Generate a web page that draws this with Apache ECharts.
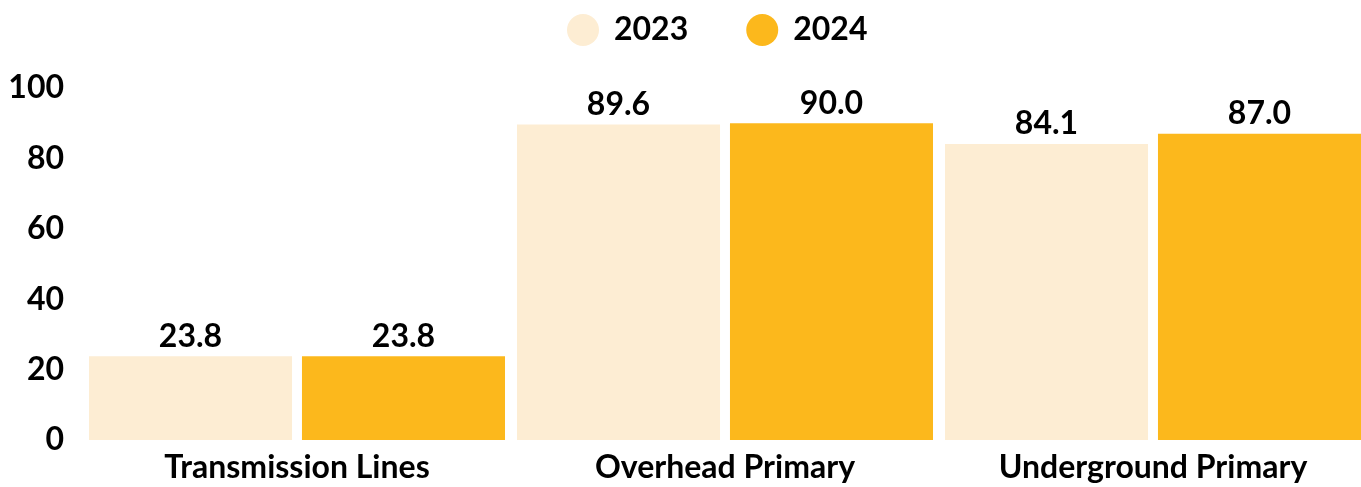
<!DOCTYPE html>
<html><head><meta charset="utf-8">
<script src="https://cdn.jsdelivr.net/npm/echarts@6/dist/echarts.min.js"></script>
<style>html,body{margin:0;padding:0;background:#fff}#c{width:1361px;height:487px}</style>
</head><body><div id="c"></div>
<script>
const categories = ["Transmission Lines", "Overhead Primary", "Underground Primary"];
const seriesNames = ["2023", "2024"];
const values2023 = [23.8, 89.6, 84.1];
const values2024 = [23.8, 90.0, 87.0];
const colors = ["#FDEDD3", "#FCB81C"];
const FONT = "Lato";
const chart = echarts.init(document.getElementById('c'));
const label = {show: true, position: 'top', distance: 4, color: '#000', fontFamily: FONT, fontWeight: 'bold', fontSize: 32, formatter: p => p.value.toFixed(1)};
chart.setOption({
  animation: false,
  legend: {
    top: 9, left: 562, icon: 'circle', itemWidth: 32, itemHeight: 32, itemGap: 58,
    textStyle: {fontFamily: FONT, fontWeight: 'bold', fontSize: 32, color: '#000', padding: [0,0,0,10]},
    data: seriesNames
  },
  grid: {left: 83, width: 1284, top: 88, bottom: 47, outerBoundsMode: 'none'},
  xAxis: {
    type: 'category', data: categories,
    axisLine: {show: false}, axisTick: {show: false},
    axisLabel: {fontFamily: FONT, fontWeight: 'bold', fontSize: 32, color: '#000', margin: 12}
  },
  yAxis: {
    type: 'value', min: 0, max: 100, interval: 20,
    splitLine: {show: false}, axisLine: {show: false}, axisTick: {show: false},
    axisLabel: {fontFamily: FONT, fontWeight: 'bold', fontSize: 32, color: '#000', margin: 19}
  },
  series: [
    {name: seriesNames[0], type: 'bar', data: values2023, itemStyle: {color: colors[0]}, barGap: '4.9%', barCategoryGap: '2.8%', label},
    {name: seriesNames[1], type: 'bar', data: values2024, itemStyle: {color: colors[1]}, label}
  ]
});
</script></body></html>
